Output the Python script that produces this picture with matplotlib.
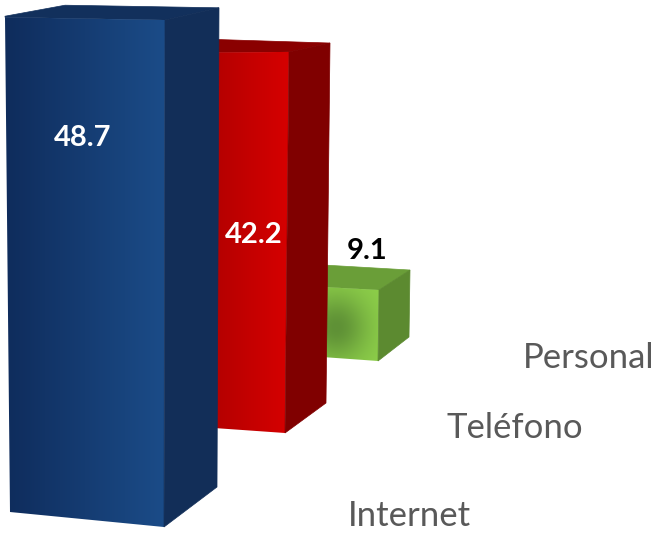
import matplotlib.pyplot as plt
import numpy as np
from matplotlib.colors import LinearSegmentedColormap
from matplotlib.patches import Polygon

categories = ["Internet", "Teléfono", "Personal"]
values = [48.7, 42.2, 9.1]
value_labels = ["48.7", "42.2", "9.1"]

# pixel layout of each bar: base of front-left, front-right, back-right corners
base_fl = [(10, 512), (214, 428), (322, 357)]
base_fr = [(164, 527), (285, 433), (378, 361)]
base_br = [(217, 487), (326, 403), (409, 337)]
# pixels per unit at those corners, closer corners are larger
ppu_fl = [10.16, 8.9, 7.7]
ppu_fr = [10.41, 9.03, 7.8]
ppu_br = [9.84, 8.53, 7.36]
# the bars lean outward a bit going up
lean_fl = [-5, 0, 0]
lean_fr = [1, 4, 1]
lean_br = [2, 4, 1]
# where the top-left back corner sits relative to the front-left one
back_shift = [(60, -12), (0, -13), (0, -22)]

front_cols = [("#0f2c5c", "#1b4c88"), ("#b40000", "#d60000")]
side_cols = ["#122e58", "#800000", "#5c8a30"]
top_cols = ["#12305c", "#8a0000", "#6a9e38"]
value_cols = ["white", "white", "black"]
value_pos = [(83, 138), (254, 235), (367, 251)]
cat_pos = [(409, 516), (515, 428), (589, 358)]
cat_sizes = [25, 25, 25]

plt.rcParams["font.family"] = ["Lato", "DejaVu Sans"]

fig = plt.figure(figsize=(6.56, 5.33), dpi=100)
ax = fig.add_axes([0, 0, 1, 1])
ax.set_xlim(0, 656)
ax.set_ylim(533, 0)
ax.axis("off")


def top_of(corner, value, ppu, lean):
    return (corner[0] + lean, corner[1] - value * ppu)


for i, value in enumerate(values):
    fl = base_fl[i]
    fr = base_fr[i]
    br = base_br[i]
    tfl = top_of(fl, value, ppu_fl[i], lean_fl[i])
    tfr = top_of(fr, value, ppu_fr[i], lean_fr[i])
    tbr = top_of(br, value, ppu_br[i], lean_br[i])
    tbl = (tfl[0] + back_shift[i][0], tfl[1] + back_shift[i][1])

    z = 3 - i
    if i == 0:
        top = [tfl, (tfl[0], tfl[1] - 1), tbl, tbr, tfr]
    else:
        top = [tbl, tbr, tfr, tfl]
    ax.add_patch(Polygon(top, facecolor=top_cols[i], edgecolor=top_cols[i], lw=0.5, zorder=z))

    front = Polygon([tfl, tfr, fr, fl], facecolor="none", lw=0, zorder=z)
    ax.add_patch(front)
    xs = [tfl[0], tfr[0], fr[0], fl[0]]
    ys = [tfl[1], tfr[1], fr[1], fl[1]]
    if i == 2:
        # green face has a soft dark patch on it
        yy, xx = np.mgrid[0:1:80j, 0:1:80j]
        shade = np.exp(-(((xx - 0.25) / 0.55) ** 2 + ((yy - 0.55) / 0.45) ** 2))
        cmap = LinearSegmentedColormap.from_list("g", ["#8ed04a", "#5f9136"])
        img = ax.imshow(shade, cmap=cmap, vmin=0, vmax=1, aspect="auto", zorder=z + 0.1,
                        extent=[min(xs), max(xs), max(ys), min(ys)])
    else:
        cmap = LinearSegmentedColormap.from_list("f", front_cols[i])
        grad = np.linspace(0, 1, 256).reshape(1, -1)
        img = ax.imshow(grad, cmap=cmap, aspect="auto", zorder=z + 0.1,
                        extent=[min(xs), max(xs), max(ys), min(ys)])
    img.set_clip_path(front)
    # side goes over the front so no light seam shows between them
    ax.add_patch(Polygon([tfr, tbr, br, fr], facecolor=side_cols[i], edgecolor=side_cols[i],
                         lw=0.5, zorder=z + 0.2))

    ax.text(*value_pos[i], value_labels[i], color=value_cols[i], fontsize=21,
            fontweight="bold", ha="center", va="center", zorder=10)
    ax.text(*cat_pos[i], categories[i], color="#595959", fontsize=cat_sizes[i],
            ha="center", va="center", zorder=10)

ax.set_xlim(0, 656)
ax.set_ylim(533, 0)
fig.savefig("out.png", dpi=100)
